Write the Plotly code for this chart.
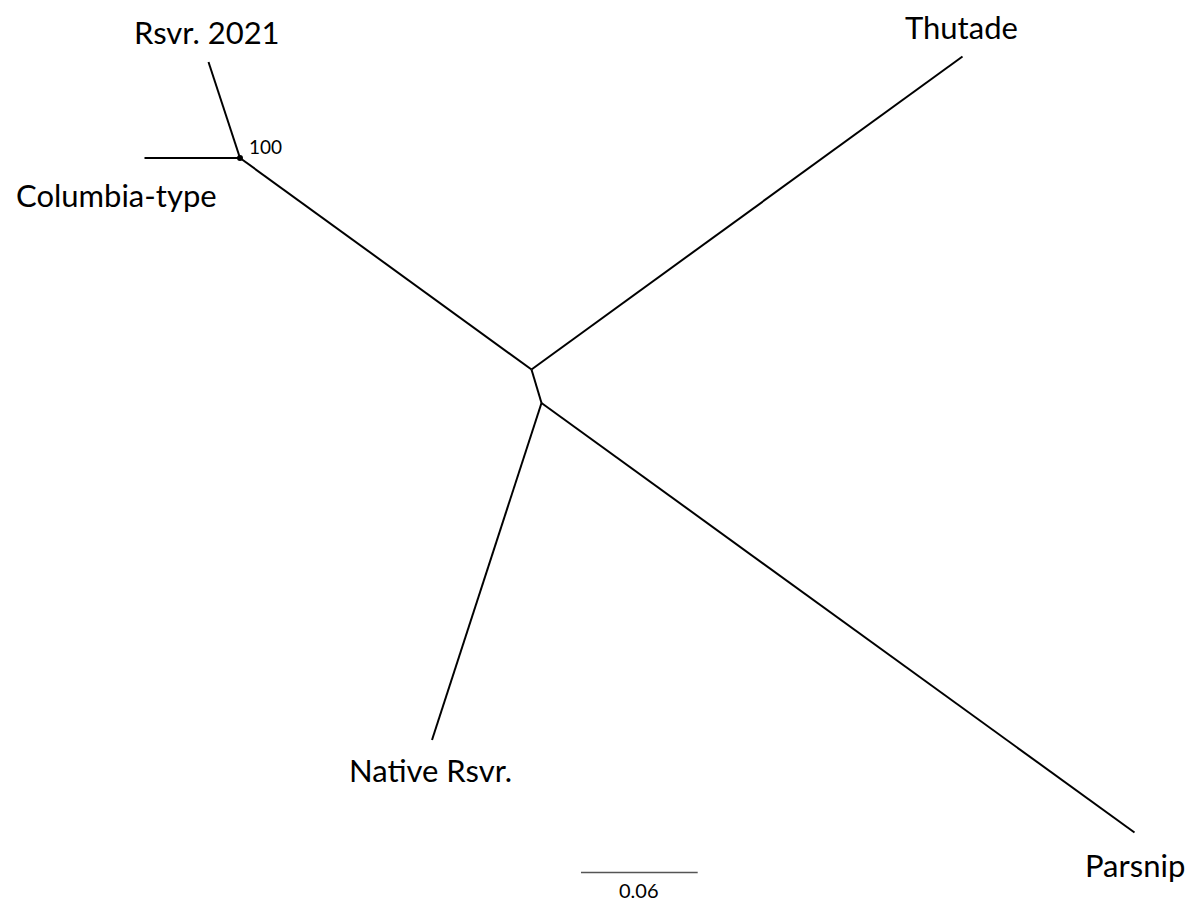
import plotly.graph_objects as go

# Unrooted tree layout, coordinates in substitutions/site (y grows downward)
node_names = ["A", "B", "C", "Rsvr. 2021", "Columbia-type", "Thutade", "Native Rsvr.", "Parsnip"]
node_x = [0.12339, 0.27326, 0.27841, 0.10720, 0.07429, 0.49486, 0.22211, 0.58329]
node_y = [0.08123, 0.18997, 0.20720, 0.03188, 0.08123, 0.02905, 0.38046, 0.42802]

# Branches as (parent, child)
edges = [
    ("A", "Rsvr. 2021"),
    ("A", "Columbia-type"),
    ("A", "B"),
    ("B", "Thutade"),
    ("B", "C"),
    ("C", "Native Rsvr."),
    ("C", "Parsnip"),
]

tip_labels = ["Rsvr. 2021", "Columbia-type", "Thutade", "Native Rsvr.", "Parsnip"]
label_offsets = {  # pixel offsets of each tip label from its tip
    "Rsvr. 2021": (-2, 30),
    "Columbia-type": (-28, -37),
    "Thutade": (-1, 30),
    "Native Rsvr.": (-2, -30),
    "Parsnip": (0, -32),
}

support_node = "A"
support_value = "100"

scale_len = 0.06
scale_x0 = 0.29871
scale_y = 0.44859

PX_PER_UNIT = 1945.0
W, H = 1190, 902

pos = {n: (x, y) for n, x, y in zip(node_names, node_x, node_y)}

fig = go.Figure()

ex, ey = [], []
for a, b in edges:
    ex += [pos[a][0], pos[b][0], None]
    ey += [pos[a][1], pos[b][1], None]
fig.add_trace(go.Scatter(x=ex, y=ey, mode="lines",
                         line=dict(color="black", width=2), hoverinfo="skip"))

# support dot
fig.add_trace(go.Scatter(x=[pos[support_node][0]], y=[pos[support_node][1]],
                         mode="markers", marker=dict(color="black", size=6),
                         hoverinfo="skip"))

# scale bar
fig.add_trace(go.Scatter(x=[scale_x0, scale_x0 + scale_len], y=[scale_y, scale_y],
                         mode="lines", line=dict(color="#555555", width=1.3),
                         hoverinfo="skip"))

FONT = "Lato, 'Open Sans', sans-serif"

for name in tip_labels:
    dx, dy = label_offsets[name]
    fig.add_annotation(x=pos[name][0], y=pos[name][1], text=name, showarrow=False,
                       xshift=dx, yshift=dy, xanchor="center", yanchor="middle",
                       font=dict(family=FONT, size=31, color="black"))

fig.add_annotation(x=pos[support_node][0], y=pos[support_node][1], text=support_value,
                   showarrow=False, xshift=7, yshift=11, xanchor="left", yanchor="middle",
                   font=dict(family=FONT, size=19, color="black"))

fig.add_annotation(x=scale_x0 + scale_len / 2, y=scale_y, text=f"{scale_len:g}",
                   showarrow=False, yshift=-4, xanchor="center", yanchor="top",
                   borderpad=0,
                   font=dict(family=FONT, size=20, color="black"))

fig.update_layout(
    width=W, height=H,
    margin=dict(l=0, r=0, t=0, b=0),
    paper_bgcolor="white", plot_bgcolor="white",
    showlegend=False,
    xaxis=dict(range=[0, W / PX_PER_UNIT], visible=False, fixedrange=True),
    yaxis=dict(range=[H / PX_PER_UNIT, 0], visible=False, fixedrange=True),
)

fig.write_html("out.html")
